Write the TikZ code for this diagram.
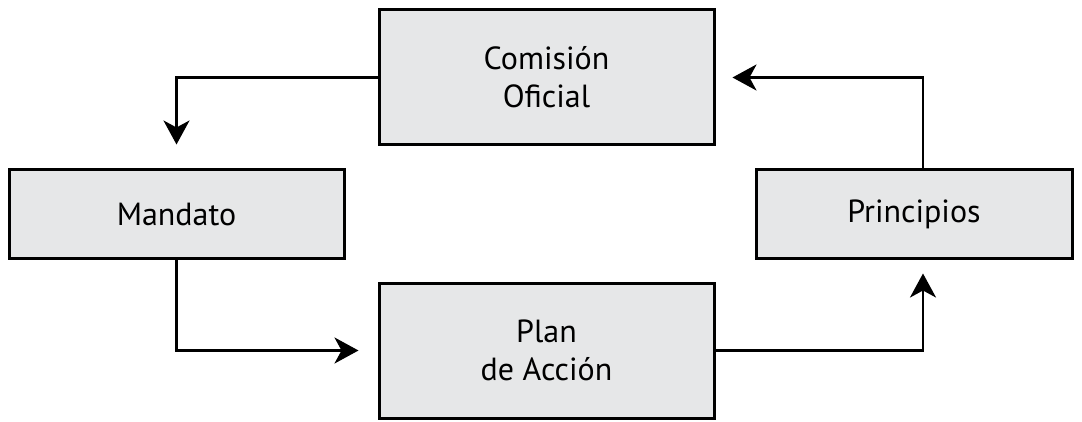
\documentclass[tikz,border=0pt]{standalone}
\usepackage{fontspec}
\setmainfont{PT Sans}
\usetikzlibrary{arrows.meta}
\definecolor{boxgray}{HTML}{E6E7E8}
\tikzset{
  box/.style={draw=black, line width=3pt, fill=boxgray, inner sep=0pt,
    align=center, font=\fontsize{32}{38}\selectfont},
  conn/.style={draw=black, line width=2.6pt,
    -{Stealth[length=24pt, width=26pt, inset=7pt]}}
}
\begin{document}
\begin{tikzpicture}[x=1pt,y=-1pt]
\useasboundingbox (0,0) rectangle (1082,422);
\node[box, minimum width=335pt, minimum height=135pt] (com) at (546.5,77.5) {Comisión\\Oficial};
\node[box, minimum width=335pt, minimum height=89pt] (man) at (176.5,214.5) {Mandato};
\node[box, minimum width=316pt, minimum height=89pt] (pri) at (914,214.5) {Principios};
\node[box, minimum width=335pt, minimum height=135pt] (plan) at (546.5,350.5) {Plan\\de Acción};
\draw[conn, shorten >=24pt] (com.west) -| (man.north);
\draw[conn, shorten >=19pt] (man.south) |- (plan.west);
\draw[conn, shorten >=13pt] (plan.east) -| ([xshift=9pt]pri.south);
\draw[conn, shorten >=17pt] ([xshift=9pt]pri.north) |- (com.east);
\end{tikzpicture}
\end{document}
